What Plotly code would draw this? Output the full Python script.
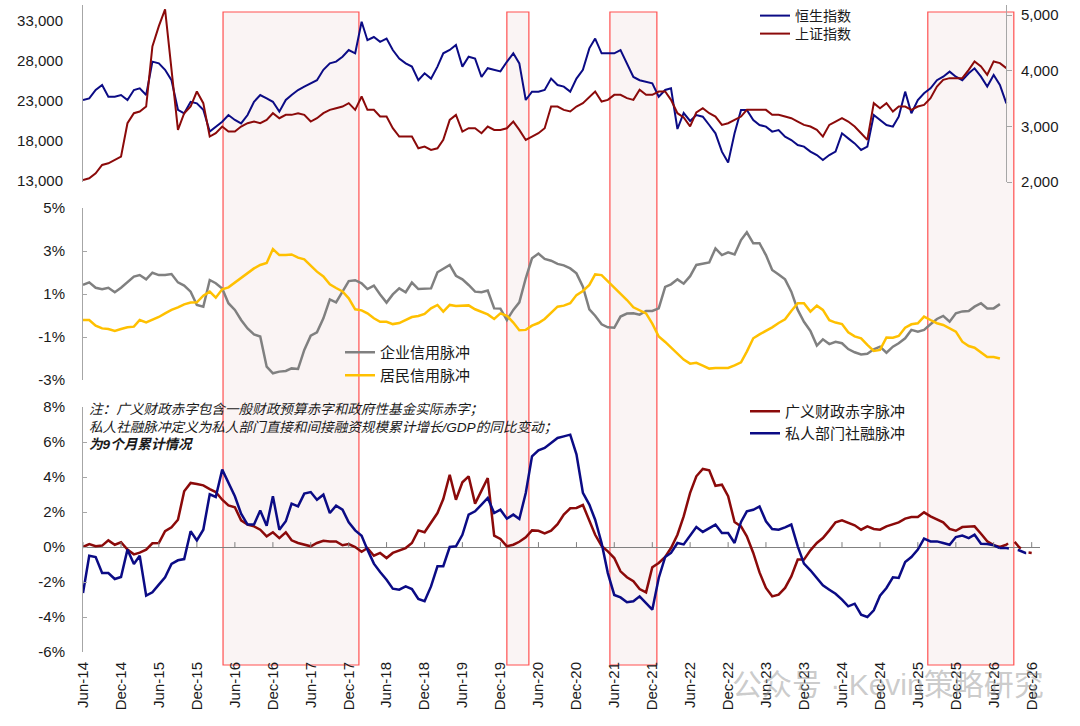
import pandas as pd
import plotly.graph_objects as go

# ---------------- data (monthly, starting Jun-2014) ----------------
hsi = [23125, 23330, 24375, 25000, 23540, 23540, 23750, 23125, 24375, 24580,
       23750, 27920, 27700, 26900, 25600, 21900, 21460, 22900, 22700, 21900,
       19170, 19800, 20400, 21250, 20630, 20200, 21250, 22900, 23750, 23330,
       22900, 21670, 23125, 23750, 24375, 24800, 25200, 25600, 26900, 27700,
       27920, 28540, 29375, 28960, 32900, 30600, 31000, 30400, 30800, 29375,
       28300, 27700, 27300, 25600, 26460, 25800, 27300, 28960, 29375, 30000,
       27300, 28540, 28300, 26000, 27100, 26900, 26700, 27900, 28960, 27700,
       23125, 24170, 24170, 24375, 25800, 25000, 24800, 24170, 25800, 26900,
       29580, 30800, 28960, 28960, 28960, 29375, 27700, 26000, 25600, 25400,
       25200, 23540, 24375, 24580, 19500, 21500, 20500, 21250, 21040, 20000,
       18960, 16670, 15300, 18960, 21875, 21875, 20625, 20000, 19800, 19170,
       19375, 18540, 18125, 17500, 17300, 16670, 16250, 15625, 16250, 16670,
       18960, 18330, 17700, 16875, 17300, 21250, 20625, 20000, 19800, 21040,
       24170, 21460, 23125, 23960, 24580, 25600, 26040, 26670, 26040, 25600,
       26460, 27080, 26040, 24800, 26250, 25000, 22700]

shci = [2036, 2066, 2156, 2306, 2336, 2396, 2456, 3056, 3236, 3266,
        3356, 4436, 4800, 5100, 4046, 2936, 3236, 3356, 3626, 3416,
        2816, 2876, 2996, 2906, 2906, 2996, 3056, 3086, 3056, 3116,
        3236, 3146, 3206, 3206, 3236, 3206, 3086, 3146, 3236, 3296,
        3326, 3356, 3416, 3296, 3536, 3296, 3296, 3176, 3176, 2966,
        2816, 2816, 2816, 2606, 2636, 2576, 2606, 2756, 3116, 3206,
        2906, 2966, 2966, 2876, 2996, 2936, 2936, 2966, 3086, 2936,
        2756, 2816, 2876, 2966, 3356, 3356, 3296, 3266, 3356, 3416,
        3536, 3626, 3446, 3476, 3566, 3566, 3506, 3476, 3656, 3566,
        3566, 3626, 3626, 3476, 3236, 3160, 3000, 3250, 3326, 3236,
        3176, 3026, 3056, 3116, 3176, 3296, 3296, 3296, 3296, 3206,
        3206, 3176, 3146, 3086, 3026, 2996, 2936, 2816, 3026, 3086,
        3146, 3086, 2996, 2876, 2756, 3416, 3326, 3416, 3266, 3356,
        3356, 3296, 3356, 3386, 3506, 3716, 3836, 3866, 3866, 3866,
        4016, 4166, 4076, 3926, 4166, 4136, 4046]

corp_credit = [1.42, 1.54, 1.29, 1.22, 1.29, 1.08, 1.29, 1.54, 1.81, 1.88,
               1.68, 1.99, 1.88, 1.88, 1.93, 1.54, 1.39, 1.11, 0.49, 0.41,
               1.65, 1.50, 1.26, 0.57, 0.26, -0.21, -0.60, -0.88, -0.98, -2.38,
               -2.69, -2.61, -2.58, -2.46, -2.49, -1.60, -0.94, -0.78, -0.13, 0.75,
               0.61, 1.11, 1.60, 1.64, 1.50, 1.23, 1.39, 0.98, 0.60, 0.98,
               1.26, 1.08, 1.53, 1.23, 1.25, 1.26, 2.01, 2.16, 2.35, 1.85,
               1.68, 1.42, 1.11, 1.08, 1.16, 0.33, 0.32, -0.21, 0.26, 0.61,
               1.73, 2.66, 2.88, 2.63, 2.55, 2.40, 2.33, 2.19, 1.96, 1.34,
               0.29, -0.01, -0.41, -0.55, -0.57, -0.05, 0.09, 0.10, 0.04, 0.21,
               0.21, 0.33, 1.33, 1.45, 1.68, 1.48, 1.83, 2.35, 2.41, 2.47,
               3.12, 2.81, 2.94, 2.84, 3.51, 3.87, 3.36, 3.36, 2.81, 2.12,
               1.91, 1.68, 1.11, 0.26, -0.29, -0.72, -1.40, -1.11, -1.33, -1.22,
               -1.29, -1.56, -1.71, -1.81, -1.78, -1.57, -1.45, -1.73, -1.45, -1.29,
               -1.06, -0.67, -0.75, -0.67, -0.41, -0.16, -0.02, -0.29, 0.10, 0.19,
               0.21, 0.41, 0.57, 0.33, 0.33, 0.53]

hh_credit = [-0.21, -0.21, -0.47, -0.60, -0.63, -0.72, -0.63, -0.55, -0.52, -0.21,
             -0.32, -0.19, -0.07, 0.10, 0.26, 0.38, 0.52, 0.60, 0.61, 0.92,
             1.11, 0.83, 1.22, 1.31, 1.54, 1.73, 1.95, 2.19, 2.35, 2.44,
             3.09, 2.81, 2.81, 2.84, 2.69, 2.61, 2.32, 2.04, 1.82, 1.45,
             1.28, 1.12, 0.80, 0.29, 0.24, 0.10, -0.13, -0.29, -0.29, -0.40,
             -0.35, -0.22, -0.07, -0.02, 0.07, 0.33, 0.49, 0.18, 0.49, 0.44,
             0.44, 0.47, 0.29, 0.18, 0.05, -0.16, 0.10, -0.01, -0.33, -0.69,
             -0.67, -0.47, -0.35, -0.16, 0.15, 0.41, 0.46, 0.57, 0.95, 1.14,
             1.42, 1.91, 1.88, 1.60, 1.31, 1.05, 0.72, 0.38, 0.26, 0.10,
             -0.38, -0.98, -1.23, -1.50, -1.78, -2.05, -2.24, -2.20, -2.33, -2.47,
             -2.44, -2.44, -2.44, -2.32, -2.18, -1.68, -1.06, -0.88, -0.72, -0.55,
             -0.35, -0.18, 0.21, 0.57, 0.57, 0.18, 0.46, 0.26, -0.22, -0.33,
             -0.40, -0.78, -0.97, -1.06, -1.37, -1.65, -1.60, -1.02, -1.03, -0.95,
             -0.57, -0.41, -0.36, -0.05, -0.21, -0.36, -0.44, -0.60, -0.75, -1.22,
             -1.42, -1.50, -1.71, -1.93, -1.93, -2.00]

# 广义财政赤字脉冲 (last months are the dashed projection)
fiscal = [0.00, 0.17, 0.04, 0.08, 0.38, 0.13, 0.27, -0.15, -0.42, -0.32,
          -0.15, 0.21, 0.23, 0.90, 1.12, 1.56, 3.18, 3.66, 3.60, 3.52,
          3.31, 3.14, 2.70, 2.38, 2.27, 1.52, 1.28, 1.18, 0.99, 0.61,
          0.84, 0.51, 0.84, 0.38, 0.23, 0.13, 0.04, 0.23, 0.36, 0.32,
          0.32, 0.10, 0.17, 0.00, -0.27, -0.06, -0.50, -0.34, -0.63, -0.34,
          -0.19, -0.06, 0.23, 0.95, 0.84, 1.37, 1.94, 2.74, 4.13, 2.70,
          3.70, 4.04, 2.48, 3.22, 3.94, 0.65, 0.46, 0.04, 0.13, 0.30,
          0.55, 0.95, 0.93, 0.78, 0.93, 1.30, 1.85, 2.21, 2.23, 2.40,
          1.52, 0.70, 0.06, -0.25, -0.63, -1.39, -1.73, -1.96, -2.40, -2.59,
          -1.16, -0.91, -0.57, -0.06, 0.70, 1.75, 3.09, 4.04, 4.46, 4.38,
          3.50, 3.56, 2.90, 1.43, 1.18, 0.61, -0.34, -1.45, -2.34, -2.82,
          -2.72, -2.34, -1.68, -0.72, -0.72, -0.19, 0.23, 0.51, 0.95, 1.41,
          1.52, 1.39, 1.24, 0.99, 1.18, 1.03, 0.99, 1.18, 1.30, 1.41,
          1.62, 1.71, 1.71, 1.98, 1.75, 1.60, 1.41, 1.03, 0.93, 1.14,
          1.18, 1.18, 0.76, 0.32, 0.11, 0.00, 0.13, 0.42, 0.00, -0.29,
          -0.34]

# 私人部门社融脉冲 (last months are the dashed projection)
private = [-2.63, -0.50, -0.57, -1.49, -1.49, -1.83, -1.71, -0.15, -0.97, -0.50,
           -2.78, -2.59, -2.15, -1.73, -0.97, -0.76, -0.69, 0.90, 0.38, 0.99,
           3.01, 2.86, 4.42, 3.70, 2.90, 1.90, 1.28, 1.28, 2.08, 1.22,
           2.90, 0.99, 1.47, 2.48, 2.32, 3.05, 3.14, 2.70, 2.99, 1.94,
           2.36, 2.13, 1.41, 0.95, 0.64, -0.15, -0.95, -1.43, -1.87, -2.38,
           -2.44, -2.25, -2.40, -2.97, -3.10, -2.25, -1.10, -1.10, 0.00, 0.04,
           0.70, 1.85, 2.04, 2.42, 2.80, 1.94, 2.13, 1.62, 1.85, 1.60,
           3.09, 5.18, 5.52, 5.66, 5.94, 6.23, 6.32, 6.42, 5.30, 3.09,
           2.42, 1.56, 0.23, -1.49, -2.74, -2.88, -3.16, -3.10, -2.82, -3.20,
           -3.58, -1.77, -0.57, -0.34, 0.23, 0.15, 0.65, 1.14, 0.86, 1.09,
           1.28, 0.80, 0.80, 0.23, 1.43, 2.04, 2.13, 2.32, 1.47, 1.03,
           0.99, 1.12, 1.28, 0.04, -0.95, -1.33, -1.77, -2.19, -2.44, -2.67,
           -3.01, -3.39, -3.24, -3.87, -4.00, -3.62, -2.78, -2.34, -1.73, -1.77,
           -0.86, -0.57, -0.15, 0.48, 0.32, 0.32, 0.23, 0.13, 0.57, 0.65,
           0.51, 0.70, 0.19, 0.17, 0.10, -0.06, -0.06, -0.11, -0.19, -0.34,
           -0.34]
n_actual_pulse = 146          # months drawn solid; the rest is dashed

highlight_periods = [("2016-04-05", "2018-01-19"),
                     ("2020-01-01", "2020-04-16"),
                     ("2021-05-11", "2021-12-23"),
                     ("2025-07-19", "2026-09-06")]

tick_dates = pd.date_range("2014-06-01", "2026-12-01", freq="6MS")
tick_text = [d.strftime("%b-%y") for d in tick_dates]

note_lines = ["注：广义财政赤字包含一般财政预算赤字和政府性基金实际赤字；",
              "私人社融脉冲定义为私人部门直接和间接融资规模累计增长/GDP的同比变动；",
              "为9个月累计情况"]

# ---------------- figure ----------------
def months(n):
    return pd.date_range("2014-06-01", periods=n, freq="MS")

NAVY = "#0B0B85"
DRED = "#8B0A0A"
GRAY = "#808080"
GOLD = "#FFC000"
AX = "#A6A6A6"
FONT = "Arial, 'Liberation Sans', 'Noto Sans CJK SC', sans-serif"
W, H = 1080, 726
ML, MR, MT, MB = 83, 40, 5, 74
PW, PH = W - ML - MR, H - MT - MB


def px_x(x):
    return (x - ML) / PW


def px_y(y):
    return (H - MB - y) / PH


fig = go.Figure()

fig.add_trace(go.Scatter(x=months(len(hsi)), y=hsi, name="恒生指数", mode="lines",
                         line=dict(color=NAVY, width=2), xaxis="x", yaxis="y",
                         legend="legend"))
fig.add_trace(go.Scatter(x=months(len(shci)), y=shci, name="上证指数", mode="lines",
                         line=dict(color=DRED, width=2), xaxis="x", yaxis="y2",
                         legend="legend4"))

fig.add_trace(go.Scatter(x=months(len(corp_credit)), y=corp_credit, name="企业信用脉冲",
                         mode="lines", line=dict(color=GRAY, width=2.5),
                         xaxis="x", yaxis="y3", legend="legend2"))
fig.add_trace(go.Scatter(x=months(len(hh_credit)), y=hh_credit, name="居民信用脉冲",
                         mode="lines", line=dict(color=GOLD, width=2.5),
                         xaxis="x", yaxis="y3", legend="legend5"))

xm = months(len(fiscal))
k = n_actual_pulse
fig.add_trace(go.Scatter(x=xm[:k], y=fiscal[:k], name="广义财政赤字脉冲", mode="lines",
                         line=dict(color=DRED, width=2.5), xaxis="x", yaxis="y4",
                         legend="legend3"))
fig.add_trace(go.Scatter(x=months(len(private))[:k], y=private[:k], name="私人部门社融脉冲",
                         mode="lines", line=dict(color=NAVY, width=2.5),
                         xaxis="x", yaxis="y4", legend="legend6"))
fig.add_trace(go.Scatter(x=xm[k - 1:], y=fiscal[k - 1:], mode="lines", showlegend=False,
                         line=dict(color=DRED, width=2.5, dash="dash"),
                         xaxis="x", yaxis="y4"))
fig.add_trace(go.Scatter(x=months(len(private))[k - 1:], y=private[k - 1:], mode="lines",
                         showlegend=False, line=dict(color=NAVY, width=2.5, dash="dash"),
                         xaxis="x", yaxis="y4"))

shapes = []
for a, b in highlight_periods:
    shapes.append(dict(type="rect", xref="x", yref="paper", x0=a, x1=b,
                       y0=px_y(665), y1=px_y(12), layer="below",
                       fillcolor="#FAF4F4", line=dict(color="#FF5050", width=1.2)))
for d in tick_dates:
    shapes.append(dict(type="line", xref="x", yref="y4", x0=d, x1=d, y0=0, y1=0.28,
                       line=dict(color=GRAY, width=1)))


def leg(x_px, top_px, size):
    return dict(x=px_x(x_px), y=px_y(top_px), xanchor="left", yanchor="top",
                bgcolor="rgba(0,0,0,0)", font=dict(size=size, color="#1A1A1A"))


tickfont = dict(size=15, color="#1A1A1A", family=FONT)
fig.update_layout(
    width=W, height=H,
    margin=dict(l=ML, r=MR, t=MT, b=MB, autoexpand=False),
    paper_bgcolor="white", plot_bgcolor="rgba(0,0,0,0)",
    font=dict(family=FONT, color="#1A1A1A"),
    shapes=shapes,
    xaxis=dict(type="date", anchor="y4", domain=[0, 1],
               range=["2014-06-01", "2027-01-10"],
               tickvals=tick_dates, ticktext=tick_text, tickangle=-90,
               tickfont=tickfont, showgrid=False, showline=False, zeroline=False,
               ticks="", ticklabelstandoff=6, automargin=False),
    yaxis=dict(domain=[px_y(182), 1.0], range=[12875, 35000],
               tickvals=[13000, 18000, 23000, 28000, 33000], tickformat=",d",
               tickfont=tickfont, showgrid=False, zeroline=False,
               showline=True, linecolor=AX, linewidth=1, ticks="",
               ticklabelstandoff=16, automargin=False),
    yaxis2=dict(overlaying="y", side="right", anchor="free", position=px_x(1006),
                range=[2000, 5180], tickvals=[2000, 3000, 4000, 5000], tickformat=",d",
                tickfont=tickfont, showgrid=False, zeroline=False,
                showline=True, linecolor=AX, linewidth=1,
                ticks="outside", ticklen=5, tickcolor=AX,
                ticklabelstandoff=6, automargin=False),
    yaxis3=dict(domain=[px_y(380), px_y(208)], range=[-3, 5], anchor="x",
                tickvals=[-3, -1, 1, 3, 5], ticktext=["-3%", "-1%", "1%", "3%", "5%"],
                tickfont=tickfont, showgrid=False, zeroline=False,
                showline=True, linecolor=AX, linewidth=1,
                ticks="inside", ticklen=4, tickcolor=AX,
                ticklabelstandoff=14, automargin=False),
    yaxis4=dict(domain=[0, px_y(407)], range=[-6, 8], anchor="x",
                tickvals=[-6, -4, -2, 0, 2, 4, 6, 8],
                ticktext=["-6%", "-4%", "-2%", "0%", "2%", "4%", "6%", "8%"],
                tickfont=tickfont, showgrid=False,
                zeroline=True, zerolinecolor=GRAY, zerolinewidth=1,
                showline=True, linecolor=AX, linewidth=1,
                ticks="inside", ticklen=4, tickcolor=AX,
                ticklabelstandoff=14, automargin=False),
    legend=leg(755, 0, 14),
    legend4=leg(755, 18, 14),
    legend2=leg(340, 336, 15),
    legend5=leg(340, 359, 15),
    legend3=leg(745, 395, 15),
    legend6=leg(745, 417, 15),
    showlegend=True,
)

fig.add_annotation(xref="paper", yref="paper", x=px_x(87), y=px_y(400),
                   xanchor="left", yanchor="top", align="left", showarrow=False,
                   text="<i>" + note_lines[0] + "<br>" + note_lines[1] + "<br><b>"
                        + note_lines[2] + "</b></i>",
                   font=dict(size=13.6, color="#1A1A1A"))
fig.add_annotation(xref="paper", yref="paper", x=px_x(888), y=px_y(684),
                   xanchor="center", yanchor="middle", showarrow=False,
                   text="公众号 · Kevin策略研究",
                   font=dict(size=30, color="rgba(140,140,140,0.45)"))

fig.write_html("out.html")
